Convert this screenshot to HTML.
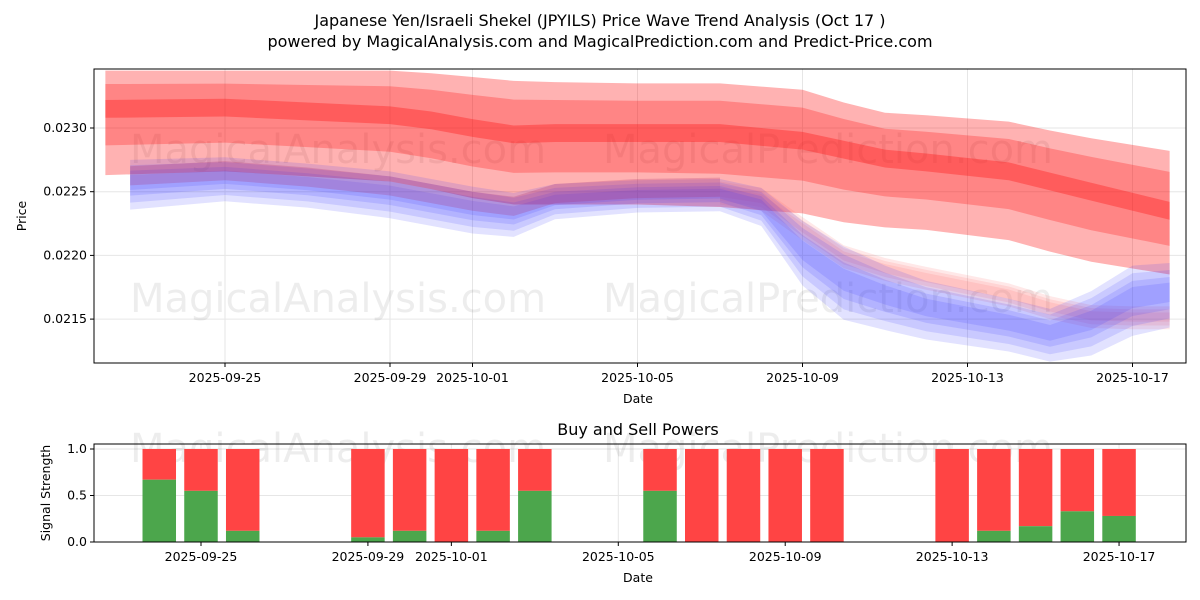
<!DOCTYPE html>
<html><head><meta charset="utf-8"><style>
body{margin:0;background:#fff;}
svg{display:block;font-family:"DejaVu Sans","Liberation Sans",sans-serif;}
</style></head><body>
<svg id="c" width="1200" height="600" xmlns="http://www.w3.org/2000/svg"></svg>
<script>
// ---- data (x = days since 2025-09-22) ----
const redX      = [0.1, 3, 5, 7, 8, 9, 10, 11, 13, 15, 17, 18, 19, 20, 22, 23, 24, 25.9];
const redCenter = [0.02315,0.02316,0.02313,0.02310,0.02306,0.02300,0.02295,0.02296,0.02296,0.02296,0.02290,0.02283,0.02276,0.02273,0.02266,0.02258,0.02250,0.02235];
const redUpper  = [0.02345,0.02345,0.02345,0.02345,0.02343,0.02340,0.02337,0.02336,0.02335,0.02335,0.02330,0.02320,0.02312,0.02310,0.02305,0.02298,0.02292,0.02282];
const redLower  = [0.02263,0.02266,0.02262,0.02258,0.02252,0.02245,0.02240,0.02240,0.02240,0.02238,0.02233,0.02226,0.02222,0.02220,0.02212,0.02203,0.02195,0.02185];
const blueX     = [0.7, 3, 5, 7, 8, 9, 10, 11, 13, 15, 16, 17, 18, 19, 20, 22, 23, 24, 25, 25.9];
const blueCenter= [0.02258,0.02262,0.02257,0.02250,0.02244,0.02238,0.02234,0.02244,0.02248,0.02249,0.02240,0.02205,0.02182,0.02170,0.02160,0.02148,0.02140,0.02150,0.02168,0.02172];
const blueSpread= [0.00017,0.00015,0.00015,0.00016,0.00016,0.00016,0.00015,0.00012,0.00011,0.00011,0.00013,0.00022,0.00025,0.00022,0.00020,0.00018,0.00018,0.00022,0.00024,0.00022];
const pinkX     = [15, 16, 17, 18, 19, 20, 22, 23, 24, 25, 25.9];
const pinkCenter= [0.02250,0.02245,0.02222,0.02200,0.02190,0.02183,0.02170,0.02160,0.02153,0.02152,0.02152];
const barDays   = [2,3,4,7,8,9,10,11,14,15,16,17,18,21,22,23,24,25];
const buyVals   = [0.67,0.55,0.12,0.05,0.12,0,0.12,0.55,0.55,0,0,0,0,0,0.12,0.17,0.33,0.28];
const tickDays  = [3,7,9,13,17,21,25];
const tickLabels= ["2025-09-25","2025-09-29","2025-10-01","2025-10-05","2025-10-09","2025-10-13","2025-10-17"];
const yTicks    = [0.0215,0.0220,0.0225,0.0230];
const y2Ticks   = [0,0.5,1.0];

const NS="http://www.w3.org/2000/svg", svg=document.getElementById('c');
function el(t,a,p){const e=document.createElementNS(NS,t);for(const k in a)e.setAttribute(k,a[k]);(p||svg).appendChild(e);return e;}
const L=94,R=1186,T1=69,B1=363,T2=444,B2=542;
const X=d=>101.25+d*41.25;
const X2=d=>75.8+d*41.73;
const Y=v=>128-(v-0.0230)/0.0005*63.7;
const Y2=v=>542-v*93;

let t=el('text',{x:600,y:26,'text-anchor':'middle','font-size':16,fill:'#000'});t.textContent='Japanese Yen/Israeli Shekel (JPYILS) Price Wave Trend Analysis (Oct 17 )';

t=el('text',{x:600,y:47,'text-anchor':'middle','font-size':16,fill:'#000'});t.textContent='powered by MagicalAnalysis.com and MagicalPrediction.com and Predict-Price.com';


const defs=el('defs',{});const cp=el('clipPath',{id:'cp1'},defs);el('rect',{x:L,y:T1,width:R-L,height:B1-T1},cp);

const g1=el('g',{});
tickDays.forEach(d=>el('line',{x1:X(d),x2:X(d),y1:T1,y2:B1,stroke:'#e6e6e6'},g1));
yTicks.forEach(v=>el('line',{x1:L,x2:R,y1:Y(v),y2:Y(v),stroke:'#e6e6e6'},g1));

function wm(x,y,s,name){const w=el('text',{x:x,y:y,'font-size':40,fill:'#000','fill-opacity':0.07});w.textContent=s;}
wm(130,163,'MagicalAnalysis.com','watermark');wm(603,163,'MagicalPrediction.com','watermark');
wm(130,312,'MagicalAnalysis.com','watermark');wm(603,312,'MagicalPrediction.com','watermark');

const plot=el('g',{'clip-path':'url(#cp1)'});
function band(xs,up,lo,color,op,name){
  let d='M'+xs.map((x,i)=>X(x)+','+Y(up[i])).join('L')+'L'+xs.slice().reverse().map((x,j)=>{const i=xs.length-1-j;return X(x)+','+Y(lo[i]);}).join('L')+'Z';
  const p=el('path',{d:d,fill:color,'fill-opacity':op},plot);
}
band(redX,redUpper,redLower,'#ff0000',0.3,'red-outer-band');
band(redX,redUpper.map((u,i)=>redCenter[i]+(u-redCenter[i])*0.65),redLower.map((l,i)=>redCenter[i]+(l-redCenter[i])*0.55),'#ff0000',0.25,'red-mid-band');
band(redX,redCenter.map(v=>v+0.00007),redCenter.map(v=>v-0.00007),'#ff0000',0.3,'red-core-band');
[1,0.7,0.4].forEach(f=>band(pinkX,pinkCenter.map(v=>v+0.00008*f),pinkCenter.map(v=>v-0.00010*f),'#ff6666',0.15,'pink-band'));
[1,0.75,0.5,0.3].forEach(f=>band(blueX,blueCenter.map((v,i)=>v+blueSpread[i]*f),blueCenter.map((v,i)=>v-blueSpread[i]*f*1.3),'#3333ff',0.14,'blue-band'));
band(blueX.slice(0,10),blueCenter.slice(0,10).map(v=>v+0.00012),blueCenter.slice(0,10).map(v=>v-0.00003),'#aa2266',0.22,'purple-overlap-band');

el('rect',{x:L,y:T1,width:R-L,height:B1-T1,fill:'none',stroke:'#000','stroke-width':1});
tickDays.forEach((d,i)=>{el('line',{x1:X(d),x2:X(d),y1:B1,y2:B1+4,stroke:'#000'});
  const tx=el('text',{x:X(d),y:B1+19,'text-anchor':'middle','font-size':12.5});tx.textContent=tickLabels[i];
  });
yTicks.forEach(v=>{el('line',{x1:L-4,x2:L,y1:Y(v),y2:Y(v),stroke:'#000'});
  const tx=el('text',{x:L-7,y:Y(v)+4,'text-anchor':'end','font-size':12.5});tx.textContent=v.toFixed(4);
  });
t=el('text',{x:638,y:403,'text-anchor':'middle','font-size':12.5});t.textContent='Date';
t=el('text',{x:26,y:216,'text-anchor':'middle','font-size':12.5,transform:'rotate(-90 26 216)'});t.textContent='Price';

t=el('text',{x:638,y:435,'text-anchor':'middle','font-size':16});t.textContent='Buy and Sell Powers';
const g2=el('g',{});
tickDays.forEach(d=>el('line',{x1:X2(d),x2:X2(d),y1:T2,y2:B2,stroke:'#e6e6e6'},g2));
y2Ticks.forEach(v=>el('line',{x1:L,x2:R,y1:Y2(v),y2:Y2(v),stroke:'#e6e6e6'},g2));
wm(130,462,'MagicalAnalysis.com','watermark');wm(603,462,'MagicalPrediction.com','watermark');
const bw=33.5;
barDays.forEach((d,i)=>{
  const b=buyVals[i];
  const r=el('rect',{x:X2(d)-bw/2,y:Y2(1),width:bw,height:Y2(b)-Y2(1),fill:'#ff4444'});
  
  const g=el('rect',{x:X2(d)-bw/2,y:Y2(b),width:bw,height:Y2(0)-Y2(b),fill:'#4ca64c'});
  
});
el('rect',{x:L,y:T2,width:R-L,height:B2-T2,fill:'none',stroke:'#000'});
tickDays.forEach((d,i)=>{el('line',{x1:X2(d),x2:X2(d),y1:B2,y2:B2+4,stroke:'#000'});
  const tx=el('text',{x:X2(d),y:B2+19,'text-anchor':'middle','font-size':12.5});tx.textContent=tickLabels[i];
  });
y2Ticks.forEach(v=>{el('line',{x1:L-4,x2:L,y1:Y2(v),y2:Y2(v),stroke:'#000'});
  const tx=el('text',{x:L-7,y:Y2(v)+4,'text-anchor':'end','font-size':12.5});tx.textContent=v.toFixed(1);
  });
t=el('text',{x:638,y:582,'text-anchor':'middle','font-size':12.5});t.textContent='Date';
t=el('text',{x:50,y:493,'text-anchor':'middle','font-size':12.5,transform:'rotate(-90 50 493)'});t.textContent='Signal Strength';
</script>
</body></html>
